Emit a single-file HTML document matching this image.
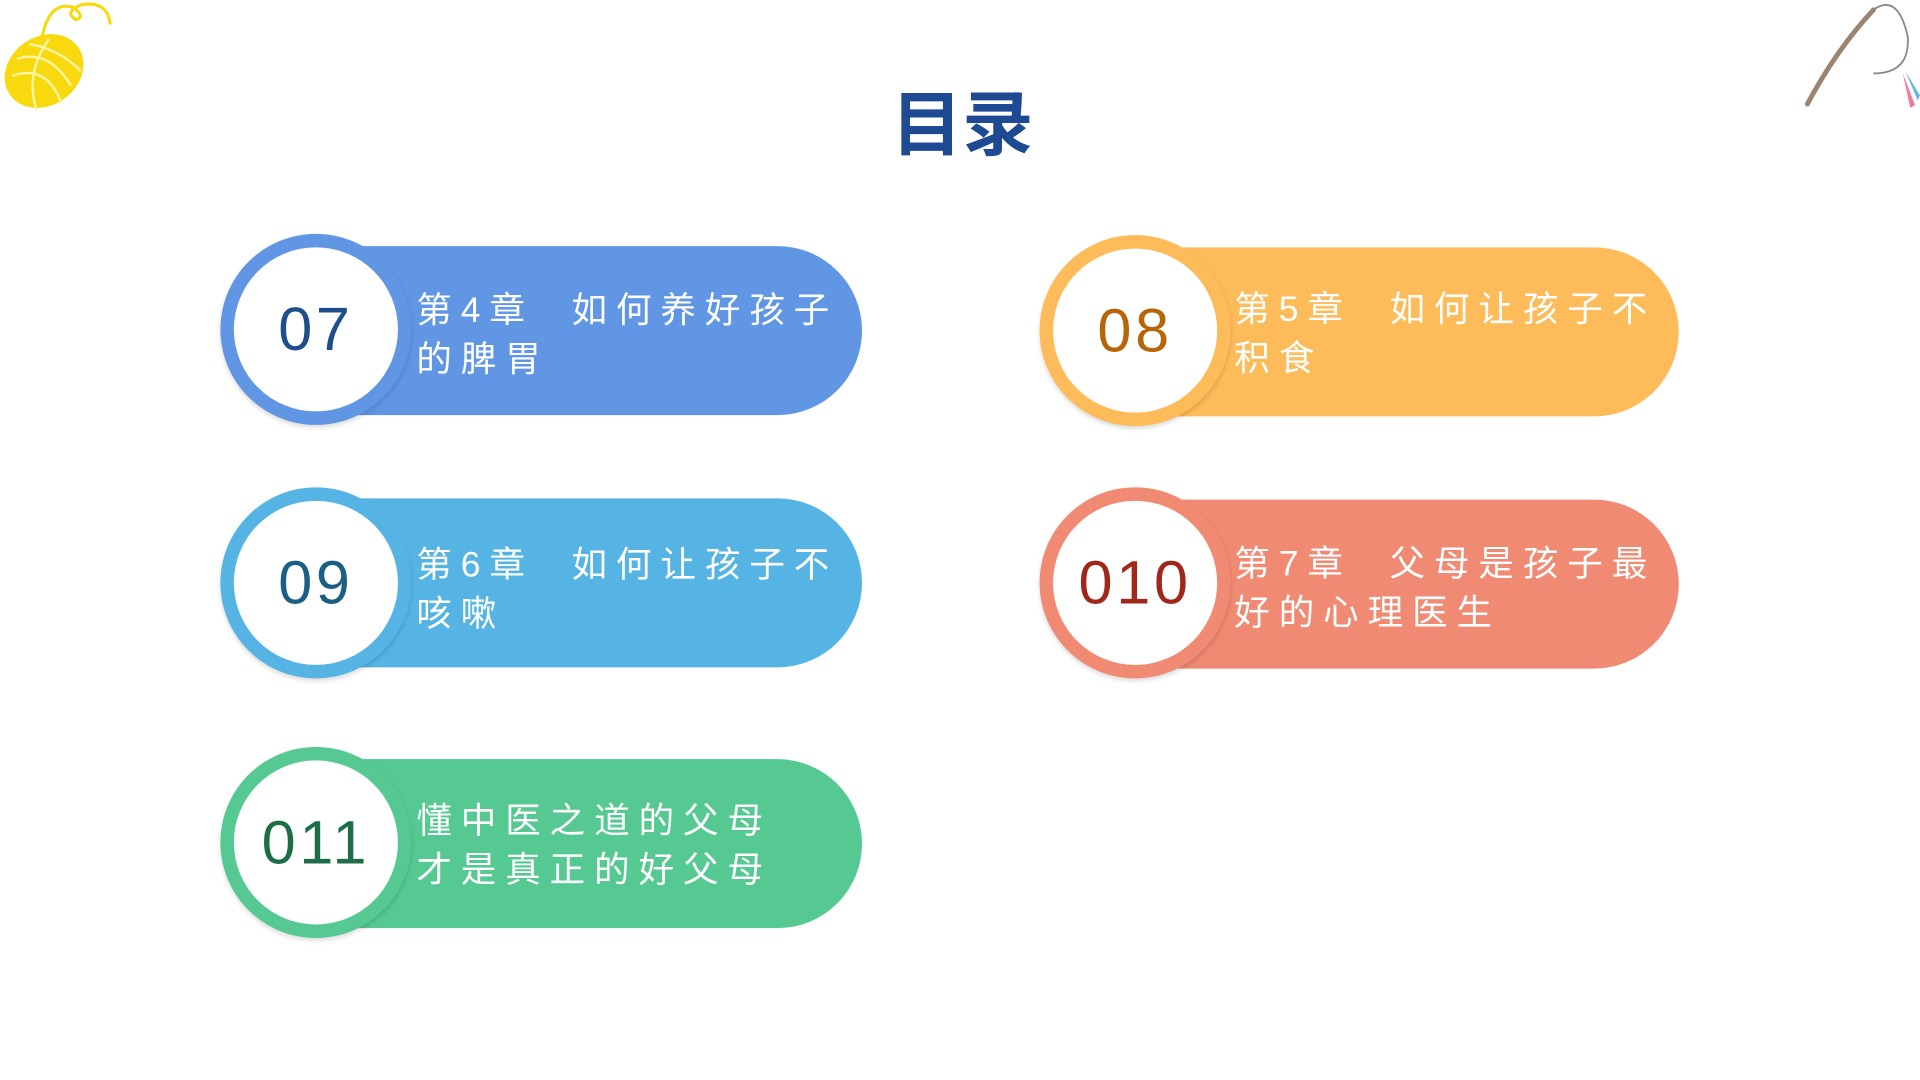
<!DOCTYPE html>
<html><head><meta charset="utf-8"><style>
html,body{margin:0;padding:0;background:#fff;overflow:hidden}
#w{position:absolute;left:0;top:0;width:1568px;height:882px;transform:scale(1.22449);transform-origin:0 0;font-family:"Liberation Sans","Noto Sans CJK SC",sans-serif}
.bar{position:absolute;height:138px;border-radius:0 69px 69px 0}
.ring{position:absolute;width:156px;height:156px;border-radius:50%;box-shadow:0 2px 4px rgba(0,0,0,.15)}
.in{position:absolute;left:11px;top:11px;width:134px;height:134px;border-radius:50%;background:#fff;display:flex;align-items:center;justify-content:center;font-size:50px;letter-spacing:3px;font-family:"Liberation Sans Narrow","Liberation Sans",sans-serif}
.t{position:absolute;color:#fff;font-size:29px;line-height:40px;letter-spacing:7.3px;font-family:"Liberation Sans","Noto Sans CJK SC",sans-serif}
h1{position:absolute;left:0;width:1568px;top:68px;margin:0;text-align:center;font-size:58px;font-weight:bold;color:#1e4a93;line-height:70px;padding-left:2px}
</style></head><body><div id="w">
<svg style="position:absolute;left:0;top:0" width="100" height="100" viewBox="0 0 100 100">
<ellipse cx="36" cy="58" rx="34" ry="28" transform="rotate(-35 36 58)" fill="#f7d90e"/>
<path d="M14 48 Q40 40 58 70 M10 62 Q38 52 50 84 M24 36 Q48 40 66 58 M30 90 Q20 60 40 32" stroke="#fff5a0" stroke-width="2" fill="none"/>
<path d="M34 32 Q40 0 60 6 Q70 14 62 16 Q52 10 66 4 Q88 0 90 20" stroke="#f7d90e" stroke-width="2.5" fill="none"/>
</svg>
<svg style="position:absolute;left:1470px;top:0" width="98" height="95" viewBox="0 0 98 95">
<path d="M6 85 Q30 40 60 8" stroke="#9b8470" stroke-width="4" fill="none" stroke-linecap="round"/>
<path d="M60 8 Q80 -6 88 30 Q90 60 60 60" stroke="#888" stroke-width="1.5" fill="none"/>
<path d="M84 60 l6 28 l4 -2 z" fill="#f07aa0"/><path d="M86 58 l10 24 l2 -4 z" fill="#6ab8e8"/>
</svg>
<h1>目录</h1>

<div class="bar" style="left:258px;top:201px;width:446px;background:#6096e4"></div>
<div class="ring" style="left:180px;top:191px;background:#6096e4"><div class="in" style="color:#1f4e8c">07</div></div>
<div class="t" style="left:340px;top:234px">第4章&nbsp;&nbsp;如何养好孩子<br>的脾胃</div>

<div class="bar" style="left:927px;top:202px;width:444px;background:#fdbb5a"></div>
<div class="ring" style="left:849px;top:192px;background:#fdbb5a"><div class="in" style="color:#b8650a">08</div></div>
<div class="t" style="left:1008px;top:233px">第5章&nbsp;&nbsp;如何让孩子不<br>积食</div>

<div class="bar" style="left:258px;top:407px;width:446px;background:#56b4e4"></div>
<div class="ring" style="left:180px;top:398px;background:#56b4e4"><div class="in" style="color:#1c5f84">09</div></div>
<div class="t" style="left:340px;top:442px">第6章&nbsp;&nbsp;如何让孩子不<br>咳嗽</div>

<div class="bar" style="left:927px;top:408px;width:444px;background:#f08a72"></div>
<div class="ring" style="left:849px;top:398px;background:#f08a72"><div class="in" style="color:#a0281a">010</div></div>
<div class="t" style="left:1008px;top:441px">第7章&nbsp;&nbsp;父母是孩子最<br>好的心理医生</div>

<div class="bar" style="left:258px;top:620px;width:446px;background:#55c991"></div>
<div class="ring" style="left:180px;top:610px;background:#55c991"><div class="in" style="color:#1d6e46">011</div></div>
<div class="t" style="left:340px;top:651px">懂中医之道的父母<br>才是真正的好父母</div>
</div></body></html>
